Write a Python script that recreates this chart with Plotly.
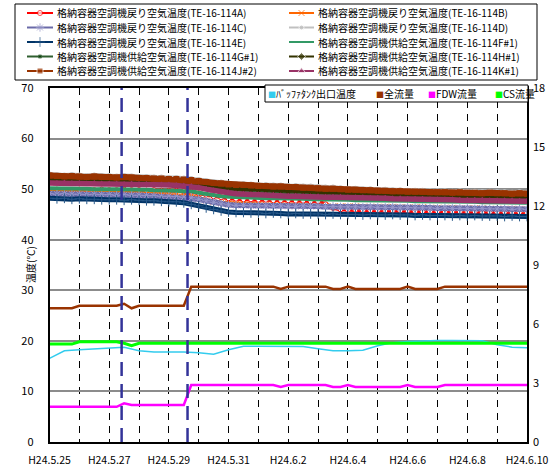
import pandas as pd
import plotly.graph_objects as go

W, H = 549, 470
FONT = "Noto Sans CJK JP"

# ---------------------------------------------------------------- data
# temperatures, sampled every 6 hours from 2012-05-25 00:00 to 2012-06-10 00:00
t6 = pd.date_range("2012-05-25 00:00", "2012-06-10 00:00", freq="6h")
t12 = pd.date_range("2012-05-25 00:00", "2012-06-10 00:00", freq="12h")

te_114a = [49.8, 49.9, 49.8, 49.8, 49.9, 49.8, 49.8, 49.9, 49.8, 49.8, 49.9, 49.8,
           49.8, 49.7, 49.8, 49.7, 49.7, 49.7, 49.6, 49.5, 49.2, 48.9, 48.6, 48.4,
           48.2, 48.1, 48.0, 48.0, 47.9, 47.9, 47.8, 47.8, 47.8, 47.7, 47.7, 47.6,
           47.6, 47.0, 46.3, 46.0, 45.9, 45.9, 45.8, 45.8, 45.8, 45.7, 45.7, 45.7,
           45.7, 45.6, 45.6, 45.6, 45.6, 45.5, 45.5, 45.5, 45.5, 45.5, 45.4, 45.4,
           45.4, 45.4, 45.3, 45.4, 45.3]
te_114b = [49.5, 49.4, 49.5, 49.4, 49.4, 49.4, 49.3, 49.4, 49.3, 49.3, 49.2, 49.2,
           49.2, 49.1, 49.1, 49.0, 49.0, 48.9, 48.8, 48.6, 48.2, 47.8, 47.5, 47.3,
           47.2, 47.1, 47.1, 47.0, 47.0, 46.9, 46.9, 46.9, 46.8, 46.8, 46.8, 46.7,
           46.7, 46.7, 46.6, 46.6, 46.6, 46.6, 46.5, 46.5, 46.5, 46.5, 46.5, 46.4,
           46.4, 46.4, 46.4, 46.3, 46.3, 46.3, 46.3, 46.2, 46.2, 46.2, 46.2, 46.1,
           46.1, 46.1, 46.1, 46.0, 46.0]
te_114c = [49.1, 49.0, 49.1, 49.0, 49.0, 48.9, 49.0, 48.9, 48.9, 48.8, 48.9, 48.8,
           48.8, 48.7, 48.7, 48.6, 48.6, 48.5, 48.4, 48.3, 48.0, 47.7, 47.4, 47.1,
           46.9, 46.8, 46.8, 46.7, 46.7, 46.7, 46.6, 46.7, 46.6, 46.6, 46.7, 46.6,
           46.6, 46.5, 46.6, 46.5, 46.5, 46.5, 46.4, 46.5, 46.4, 46.4, 46.4, 46.3,
           46.4, 46.3, 46.3, 46.3, 46.2, 46.3, 46.2, 46.2, 46.2, 46.1, 46.2, 46.1,
           46.1, 46.1, 46.0, 46.1, 46.0]
te_114d = [53.0, 52.9, 52.8, 52.9, 52.8, 52.7, 52.8, 52.7, 52.7, 52.6, 52.7, 52.6,
           52.5, 52.5, 52.4, 52.4, 52.3, 52.3, 52.2, 52.1, 51.9, 51.7, 51.5, 51.4,
           51.2, 51.1, 51.1, 51.0, 50.9, 50.9, 50.8, 50.8, 50.7, 50.7, 50.6, 50.6,
           50.5, 50.4, 50.4, 50.3, 50.2, 50.2, 50.1, 50.1, 50.0, 50.0, 49.9, 49.9,
           49.8, 49.8, 49.8, 49.7, 49.7, 49.7, 49.6, 49.7, 49.6, 49.6, 49.5, 49.6,
           49.5, 49.5, 49.4, 49.5, 49.4]
te_114e = [48.2, 48.1, 48.2, 48.0, 48.1, 48.0, 48.0, 47.9, 47.9, 47.9, 47.8, 47.9,
           47.8, 47.7, 47.7, 47.6, 47.5, 47.5, 47.3, 47.0, 46.7, 46.3, 46.0, 45.7,
           45.5, 45.4, 45.4, 45.3, 45.3, 45.2, 45.3, 45.2, 45.1, 45.2, 45.1, 45.1,
           45.1, 45.0, 45.1, 45.0, 45.0, 45.0, 44.9, 45.0, 44.9, 44.9, 45.0, 44.9,
           44.9, 44.8, 44.9, 44.8, 44.8, 44.8, 44.7, 44.8, 44.7, 44.8, 44.7, 44.7,
           44.7, 44.6, 44.7, 44.6, 44.6]
te_114f1 = [50.2, 50.2, 50.1, 50.2, 50.1, 50.1, 50.0, 50.1, 50.0, 50.0, 50.0, 49.9,
            49.9, 49.9, 49.8, 49.8, 49.8, 49.7, 49.6, 49.6, 49.3, 49.0, 48.8, 48.6,
            48.5, 48.4, 48.4, 48.3, 48.3, 48.2, 48.2, 48.2, 48.1, 48.1, 48.1, 48.0,
            48.0, 48.0, 47.9, 47.9, 47.9, 47.8, 47.8, 47.8, 47.8, 47.7, 47.7, 47.7,
            47.7, 47.6, 47.6, 47.6, 47.6, 47.5, 47.5, 47.5, 47.5, 47.5, 47.4, 47.4,
            47.4, 47.4, 47.4, 47.3, 47.3]
te_114g1 = [51.7, 51.6, 51.6, 51.6, 51.5, 51.5, 51.4, 51.4, 51.4, 51.3, 51.3, 51.3,
            51.2, 51.2, 51.1, 51.1, 51.0, 51.0, 50.9, 50.8, 50.6, 50.4, 50.2, 50.1,
            49.9, 49.8, 49.8, 49.7, 49.6, 49.6, 49.5, 49.5, 49.4, 49.4, 49.3, 49.3,
            49.2, 49.1, 49.1, 49.0, 48.9, 48.9, 48.8, 48.8, 48.7, 48.7, 48.6, 48.6,
            48.5, 48.5, 48.5, 48.4, 48.4, 48.4, 48.3, 48.4, 48.3, 48.3, 48.2, 48.3,
            48.2, 48.2, 48.1, 48.2, 48.1]
te_114h1 = [52.0, 51.9, 51.9, 51.9, 51.8, 51.8, 51.8, 51.7, 51.7, 51.6, 51.7, 51.6,
            51.5, 51.5, 51.4, 51.4, 51.3, 51.3, 51.2, 51.1, 50.9, 50.7, 50.5, 50.4,
            50.2, 50.1, 50.1, 50.0, 49.9, 49.9, 49.8, 49.8, 49.7, 49.7, 49.6, 49.6,
            49.5, 49.4, 49.4, 49.3, 49.2, 49.2, 49.1, 49.1, 49.0, 49.0, 48.9, 48.9,
            48.8, 48.8, 48.8, 48.7, 48.7, 48.7, 48.6, 48.7, 48.6, 48.6, 48.5, 48.6,
            48.5, 48.5, 48.4, 48.5, 48.4]
te_114j2 = [52.7, 52.6, 52.5, 52.6, 52.5, 52.4, 52.5, 52.4, 52.4, 52.3, 52.4, 52.3,
            52.2, 52.2, 52.1, 52.1, 52.0, 52.0, 51.9, 51.8, 51.6, 51.4, 51.2, 51.1,
            50.9, 50.8, 50.8, 50.7, 50.6, 50.6, 50.5, 50.5, 50.4, 50.4, 50.3, 50.3,
            50.2, 50.1, 50.1, 50.0, 49.9, 49.9, 49.8, 49.8, 49.7, 49.7, 49.6, 49.6,
            49.5, 49.5, 49.5, 49.4, 49.4, 49.4, 49.3, 49.4, 49.3, 49.3, 49.2, 49.3,
            49.2, 49.2, 49.1, 49.2, 49.1]
te_114k1 = [51.2, 51.1, 51.2, 51.1, 51.1, 51.0, 51.1, 51.0, 51.0, 51.0, 50.9, 51.0,
            50.9, 50.9, 50.8, 50.8, 50.8, 50.7, 50.6, 50.5, 50.3, 50.0, 49.7, 49.4,
            49.3, 49.1, 49.0, 48.9, 48.9, 48.8, 48.8, 48.7, 48.6, 48.6, 48.5, 48.5,
            48.5, 48.4, 48.4, 48.4, 48.3, 48.3, 48.3, 48.2, 48.2, 48.2, 48.1, 48.1,
            48.0, 48.0, 48.0, 47.9, 47.9, 47.9, 47.9, 47.8, 47.8, 47.8, 47.8, 47.7,
            47.7, 47.7, 47.7, 47.6, 47.6]

# flows (right axis), every 6 hours
total_flow = [6.80] * 4 + [6.93] * 6 + [7.03, 6.80] + [6.93] * 7 + [7.90] * 12 + \
             [7.78] + [7.90] * 6 + [7.78] * 2 + [7.90] + [7.78] * 7 + [7.90] + \
             [7.78] * 4 + [7.90] * 12
fdw_flow = [1.79] * 10 + [1.97] + [1.88] * 8 + [2.90] * 12 + [2.80] + [2.90] * 6 + \
           [2.80] * 2 + [2.90] + [2.80] * 7 + [2.90] + [2.80] * 4 + [2.90] * 12
cs_flow = [4.98] * 4 + [5.10] * 6 + [5.02, 4.90] + [5.02] * 53

# buffer tank outlet temperature (left axis), every 12 hours
buffer_temp = [16.55, 18.05, 18.25, 18.45, 18.65, 18.75, 18.05, 17.8, 17.8, 17.8,
               17.65, 17.35, 18.25, 18.95, 18.95, 18.95, 18.95, 18.9, 18.45, 18.05,
               18.05, 18.15, 19.05, 19.65, 19.85, 20.0, 20.05, 20.05, 20.05, 20.0,
               19.25, 18.75, 18.65]

# operation events
event_times = ["2012-05-27 10:00", "2012-05-29 15:00"]

temp_names = [
    "格納容器空調機戻り空気温度(TE-16-114A)",
    "格納容器空調機戻り空気温度(TE-16-114B)",
    "格納容器空調機戻り空気温度(TE-16-114C)",
    "格納容器空調機戻り空気温度(TE-16-114D)",
    "格納容器空調機戻り空気温度(TE-16-114E)",
    "格納容器空調機供給空気温度(TE-16-114F#1)",
    "格納容器空調機供給空気温度(TE-16-114G#1)",
    "格納容器空調機供給空気温度(TE-16-114H#1)",
    "格納容器空調機供給空気温度(TE-16-114J#2)",
    "格納容器空調機供給空気温度(TE-16-114K#1)",
]
temp_values = [te_114a, te_114b, te_114c, te_114d, te_114e,
               te_114f1, te_114g1, te_114h1, te_114j2, te_114k1]
flow_names = ["ﾊﾞｯﾌｧﾀﾝｸ出口温度", "全流量", "FDW流量", "CS流量"]

# ---------------------------------------------------------------- styles
temp_styles = [
    dict(color="#FF0000", marker=dict(symbol="circle", size=5, color="white",
                                      line=dict(color="#FF0000", width=1))),
    dict(color="#FF6600", marker=dict(symbol="x-thin", size=6, color="#FF6600",
                                      line=dict(color="#FF6600", width=1))),
    dict(color="#6A6AA8", marker=dict(symbol="asterisk", size=7, color="#9999CC",
                                      line=dict(color="#9999CC", width=1))),
    dict(color="#C0C0C0", marker=dict(symbol="circle", size=5, color="#C0C0C0")),
    dict(color="#003366", marker=dict(symbol="cross-thin", size=7, color="#003366",
                                      line=dict(color="#2A5A8A", width=1))),
    dict(color="#339966", marker=dict(symbol="line-ew", size=6, color="#339966",
                                      line=dict(color="#339966", width=2))),
    dict(color="#2F5F2F", marker=dict(symbol="square", size=3, color="#003300")),
    dict(color="#333300", marker=dict(symbol="diamond", size=6, color="#333300")),
    dict(color="#993300", marker=dict(symbol="square", size=6, color="#993300")),
    dict(color="#993366", marker=dict(symbol="triangle-up", size=7, color="#993366")),
]
band_widths = [4, 4, 5.5, 4, 5, 4, 4, 4, 6, 5.5]
flow_colors = ["#33CCEE", "#993300", "#FF00FF", "#00FF00"]

fig = go.Figure()

for name, vals, st, bw in zip(temp_names, temp_values, temp_styles, band_widths):
    fig.add_trace(go.Scatter(
        x=t6, y=vals, name=name, mode="lines+markers",
        line=dict(color=st["color"], width=bw), marker=st["marker"],
        showlegend=False, xaxis="x", yaxis="y"))

fig.add_trace(go.Scatter(x=t12, y=buffer_temp, name=flow_names[0], mode="lines",
                         line=dict(color=flow_colors[0], width=1.5),
                         showlegend=False, xaxis="x", yaxis="y"))
for name, vals, col, lw in zip(flow_names[1:], [total_flow, fdw_flow, cs_flow],
                               flow_colors[1:], [2.5, 2.5, 3]):
    fig.add_trace(go.Scatter(x=t6, y=vals, name=name, mode="lines",
                             line=dict(color=col, width=lw),
                             showlegend=False, xaxis="x", yaxis="y2"))

# ---------------------------------------------------------------- key for the temperature series
# keys live on an auxiliary pixel-scaled axis pair spanning the whole page
col_line = [(27, 53), (289, 314)]
col_text = [55, 316]
rows = [13, 27.5, 42, 56.5, 71]
annotations = []
for k, (name, st) in enumerate(zip(temp_names, temp_styles)):
    r, c = divmod(k, 2)
    x0, x1 = col_line[c]
    xm = (x0 + x1) / 2
    mk = dict(st["marker"])
    mk["size"] = [0, st["marker"]["size"], 0]
    fig.add_trace(go.Scatter(
        x=[x0, xm, x1], y=[rows[r]] * 3, mode="lines+markers",
        line=dict(color=st["color"], width=2), marker=mk,
        showlegend=False, hoverinfo="skip", xaxis="x3", yaxis="y3"))
    annotations.append(dict(
        text=name, x=col_text[c] / W, y=1 - rows[r] / H, xref="paper", yref="paper",
        xanchor="left", yanchor="middle", showarrow=False,
        font=dict(family=FONT, size=10, color="black")))

shapes = [dict(type="rect", xref="paper", yref="paper", x0=15 / W, x1=537 / W,
               y0=1 - 4 / H, y1=1 - 80 / H, line=dict(color="black", width=1),
               fillcolor="rgba(0,0,0,0)", layer="above")]

# key for the flow series, boxed inside the plot area
shapes.append(dict(type="rect", xref="paper", yref="paper", x0=265 / W, x1=528 / W,
                   y0=1 - 85 / H, y1=1 - 102 / H, line=dict(color="black", width=1),
                   fillcolor="white", layer="above"))
key2_x = [266, 374, 425.5, 492.5]
for name, col, kx in zip(flow_names, flow_colors, key2_x):
    annotations.append(dict(
        text=f"<span style='color:{col};font-size:8px'>■</span>{name}",
        x=kx / W, y=1 - 94 / H, xref="paper", yref="paper",
        xanchor="left", yanchor="middle", showarrow=False,
        font=dict(family=FONT, size=10, color="black")))

# event markers
for et in event_times:
    shapes.append(dict(type="line", xref="x", yref="y domain", x0=et, x1=et, y0=0, y1=1,
                       line=dict(color="#333399", width=2.5, dash="14px,8px"),
                       layer="above"))

# y-axis title
annotations.append(dict(text="温度(℃)", x=30 / W, y=1 - 265 / H, xref="paper",
                        yref="paper", textangle=-90, showarrow=False,
                        xanchor="center", yanchor="middle",
                        font=dict(family=FONT, size=10, color="black")))

day_ms = 86400000
fig.update_layout(
    width=W, height=H, autosize=False,
    margin=dict(l=0, r=0, t=0, b=0, autoexpand=False),
    paper_bgcolor="white", plot_bgcolor="rgba(0,0,0,0)",
    font=dict(family=FONT, size=11, color="black"),
    showlegend=False,
    xaxis=dict(domain=[49.5 / W, 527 / W], type="date", automargin=False,
               range=["2012-05-25", "2012-06-10"], tick0="2012-05-25", dtick=2 * day_ms,
               tickformat="H24.%-m.%-d", ticks="", ticklabelstandoff=8,
               ticklabeloverflow="allow",
               showgrid=True, gridcolor="black", gridwidth=1, griddash="7px,6px",
               minor=dict(dtick=day_ms, tick0="2012-05-25", showgrid=True,
                          gridcolor="black", gridwidth=1, griddash="7px,6px"),
               showline=True, mirror=True, linecolor="black", linewidth=1.5,
               zeroline=False, tickfont=dict(size=10.5), anchor="y"),
    yaxis=dict(domain=[1 - 442 / H, 1 - 88 / H], range=[0, 70], dtick=10,
               automargin=False,
               showgrid=True, gridcolor="#8C8C8C", gridwidth=2, zeroline=False,
               showline=True, mirror=True, linecolor="black", linewidth=1.5,
               ticks="", ticklabelstandoff=12, tickfont=dict(size=11), anchor="x"),
    yaxis2=dict(range=[0, 18], dtick=3, overlaying="y", side="right", anchor="x",
                automargin=False,
                showgrid=False, zeroline=False, ticks="", ticklabelstandoff=5,
                tickfont=dict(size=11)),
    xaxis3=dict(domain=[0, 1], range=[0, W], visible=False, anchor="y3",
                fixedrange=True, automargin=False),
    yaxis3=dict(domain=[0, 1], range=[H, 0], visible=False, anchor="x3",
                fixedrange=True, automargin=False),
    shapes=shapes,
    annotations=annotations,
)

fig.write_html("out.html")
